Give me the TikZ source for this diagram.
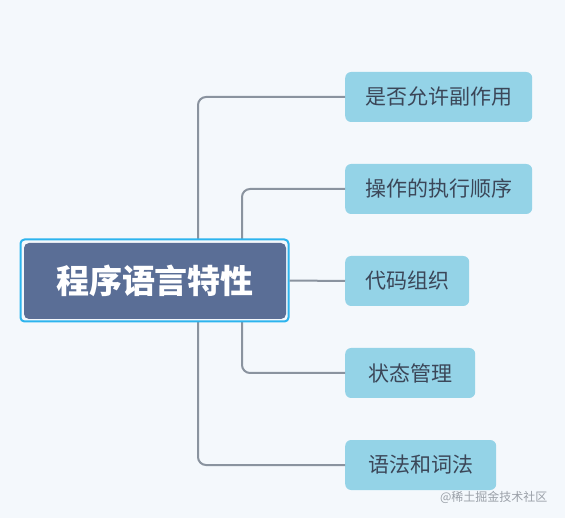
\documentclass[tikz,border=0pt]{standalone}
\usepackage{fontspec}
\newfontfamily\cjk{Noto Sans CJK SC}
\definecolor{bg}{HTML}{F4F8FC}
\definecolor{mainfill}{HTML}{5A6E96}
\definecolor{mainborder}{HTML}{2DB4EE}
\definecolor{childfill}{HTML}{94D3E7}
\definecolor{childtext}{HTML}{3B4658}
\definecolor{linec}{HTML}{8A939F}
\definecolor{wm}{HTML}{9AA0A8}
\tikzset{
  child/.style={rectangle, rounded corners=6pt, fill=childfill, minimum height=50pt, anchor=west, inner xsep=0pt, font=\cjk\fontsize{21}{21}\selectfont, text=childtext},
  conn/.style={draw=linec, line width=2pt, rounded corners=8pt},
}
\begin{document}
\begin{tikzpicture}[x=1pt,y=-1pt]
\fill[bg] (0,0) rectangle (565,518);
\useasboundingbox (0,0) rectangle (565,518);
% children
\node[child, minimum width=187pt] (c1) at (345,97) {是否允许副作用};
\node[child, minimum width=187pt] (c2) at (345,189) {操作的执行顺序};
\node[child, minimum width=124pt] (c3) at (345,281) {代码组织};
\node[child, minimum width=130pt] (c4) at (345,373) {状态管理};
\node[child, minimum width=151pt] (c5) at (345,465) {语法和词法};
\coordinate (ax) at (198,0);
\coordinate (bx) at (242,0);
% connectors
\draw[conn] (c1.west) -| (ax |- 281,281) |- (c5.west);
\draw[conn] (c2.west) -| (bx |- 281,281) |- (c4.west);
% main node
\node[rectangle, rounded corners=4pt, draw=mainborder, line width=2pt, fill=bg, minimum width=268pt, minimum height=82pt] (mo) at (154.5,280.5) {};
\node[rectangle, rounded corners=5pt, fill=mainfill, minimum width=262pt, minimum height=76pt, font=\cjk\bfseries\fontsize{33}{33}\selectfont, text=white] (m) at (155,281) {程序语言特性};
\draw[conn] (mo.east) -- (c3.west);
\node[font=\cjk\fontsize{12}{12}\selectfont, text=wm, anchor=east] (w) at (551,497) {@稀土掘金技术社区};
\end{tikzpicture}
\end{document}
